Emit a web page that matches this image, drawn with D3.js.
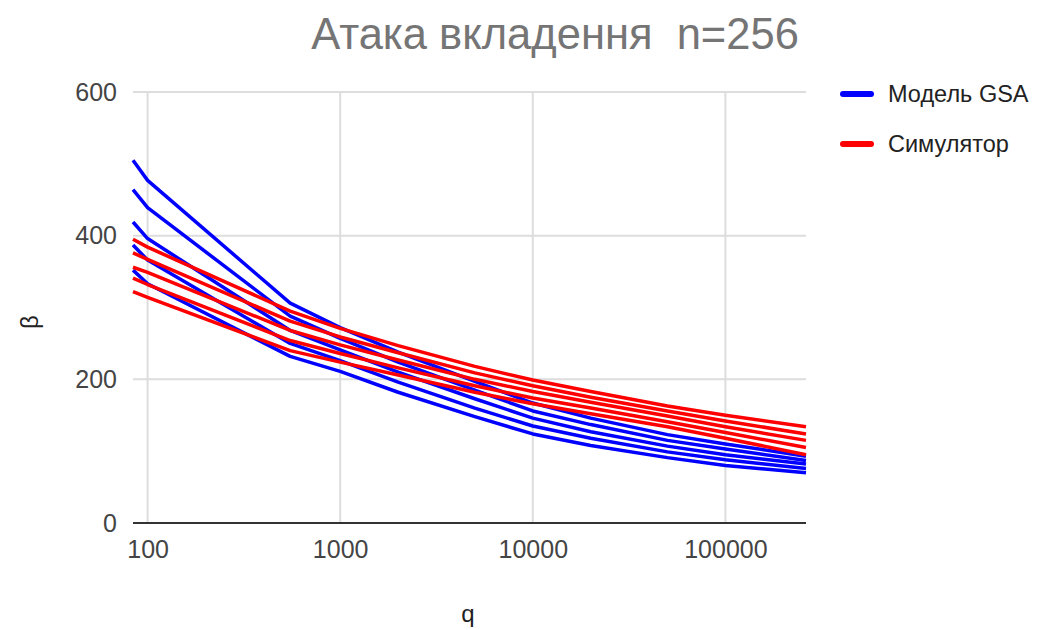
<!DOCTYPE html>
<html>
<head>
<meta charset="utf-8">
<script src="https://cdn.jsdelivr.net/npm/d3@7"></script>
<style>
  body { margin: 0; background: #fff; }
  svg text { font-family: "Liberation Sans", Arial, sans-serif; }
</style>
</head>
<body>
<svg id="chart" width="1046" height="630"></svg>
<script>
// q values (x axis, log)
var qValues = [84, 100, 550, 1000, 2000, 5000, 10000, 20000, 50000, 100000, 262144];

// Модель GSA (blue)
var gsaSeries = [
  [505, 477, 306, 272, 238, 197, 167, 146, 123, 110, 93],
  [464, 439, 288, 257, 224, 185, 156, 137, 115, 103, 87],
  [419, 396, 268, 241, 210, 173, 146, 127, 107, 95, 82],
  [387, 366, 250, 226, 196, 160, 135, 118, 99, 88, 76],
  [352, 333, 232, 211, 182, 148, 124, 108, 91, 80, 70]
];

// Симулятор (red)
var simSeries = [
  [395, 384, 295, 271, 247, 218, 199, 183, 163, 150, 134],
  [376, 367, 281, 259, 237, 209, 191, 175, 156, 142, 124],
  [356, 349, 268, 248, 227, 200, 183, 168, 149, 134, 115],
  [341, 332, 254, 236, 216, 191, 174, 160, 141, 126, 105],
  [322, 314, 240, 224, 206, 182, 166, 152, 134, 118, 95]
];

var xTicks = [100, 1000, 10000, 100000];
var yTicks = [0, 200, 400, 600];
var legendNames = ["Модель GSA", "Симулятор"];
var legendColors = ["#0000ff", "#ff0000"];

var svg = d3.select("#chart");
var pLeft = 133, pRight = 806, pTop = 92, pBottom = 523;

var x = d3.scaleLog().domain([84, 262144]).range([pLeft, pRight]);
var y = d3.scaleLinear().domain([0, 600]).range([pBottom, pTop]);

// gridlines
svg.append("g").selectAll("line").data(xTicks).join("line")
  .attr("x1", function(d) { return x(d); }).attr("x2", function(d) { return x(d); })
  .attr("y1", pTop).attr("y2", pBottom)
  .style("stroke", "#dddddd").style("stroke-width", 2);
svg.append("g").selectAll("line").data(yTicks.filter(function(d) { return d > 0; })).join("line")
  .attr("x1", pLeft).attr("x2", pRight)
  .attr("y1", function(d) { return y(d); }).attr("y2", function(d) { return y(d); })
  .style("stroke", "#dddddd").style("stroke-width", 2);

// tick labels
var xAxis = svg.append("g").attr("transform", "translate(0," + pBottom + ")")
  .call(d3.axisBottom(x).tickValues(xTicks).tickFormat(d3.format("d")).tickSize(0).tickPadding(17));
xAxis.select(".domain").remove();
xAxis.selectAll("text").style("font-size", "25px").style("fill", "#444");

var yAxis = svg.append("g").attr("transform", "translate(" + (pLeft - 16) + ",0)")
  .call(d3.axisLeft(y).tickValues(yTicks).tickSize(0).tickPadding(0));
yAxis.select(".domain").remove();
yAxis.selectAll("text").style("font-size", "25px").style("fill", "#444");

// lines
var line = d3.line()
  .x(function(d, i) { return x(qValues[i]); })
  .y(function(d) { return y(d); });

svg.append("g").selectAll("path").data(gsaSeries).join("path")
  .attr("d", line).style("fill", "none").style("stroke", legendColors[0])
  .style("stroke-width", 3.5).style("stroke-linejoin", "round");
svg.append("g").selectAll("path").data(simSeries).join("path")
  .attr("d", line).style("fill", "none").style("stroke", legendColors[1])
  .style("stroke-width", 3.5).style("stroke-linejoin", "round");

// baseline
svg.append("line")
  .attr("x1", pLeft).attr("x2", pRight).attr("y1", y(0)).attr("y2", y(0))
  .style("stroke", "#333").style("stroke-width", 2);

// title
svg.append("text").attr("x", 555).attr("y", 49).attr("text-anchor", "middle")
  .style("font-size", "43.5px").style("fill", "#757575").style("white-space", "pre")
  .text("Атака вкладення  n=256");

// axis titles
svg.append("text").attr("x", 468).attr("y", 622).attr("text-anchor", "middle")
  .style("font-size", "24px").style("fill", "#222").text("q");
svg.append("text").attr("transform", "translate(38,322) rotate(-90)").attr("text-anchor", "middle")
  .style("font-size", "24px").style("fill", "#222").text("β");

// legend
var legend = svg.append("g").selectAll("g").data(legendNames).join("g")
  .attr("transform", function(d, i) { return "translate(843," + (94 + i * 50) + ")"; });
legend.append("line").attr("x1", 0).attr("x2", 28).attr("y1", 0).attr("y2", 0)
  .style("stroke", function(d, i) { return legendColors[i]; })
  .style("stroke-width", 6).style("stroke-linecap", "round");
legend.append("text").attr("x", 45).attr("y", 0).attr("dy", "0.35em")
  .style("font-size", "23.5px").style("fill", "#222").text(function(d) { return d; });
</script>
</body>
</html>
